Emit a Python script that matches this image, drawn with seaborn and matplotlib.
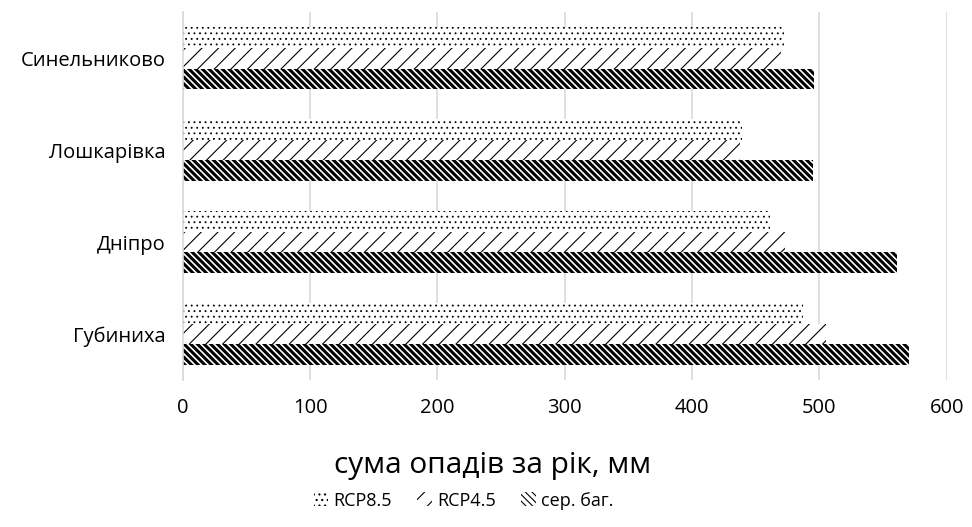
import pandas as pd
import matplotlib.pyplot as plt
import seaborn as sns

stations = ['Синельниково', 'Лошкарівка', 'Дніпро', 'Губиниха']
rcp85 = [472, 439, 461, 487]
rcp45 = [470, 438, 473, 505]
avg = [496, 495, 561, 570]
series = ['RCP8.5', 'RCP4.5', 'сер. баг.']

df = pd.DataFrame({
    'station': stations * 3,
    'value': rcp85 + rcp45 + avg,
    'series': [s for s in series for _ in stations],
})

sns.set_theme(style='white')
plt.rcParams['font.family'] = ['Open Sans', 'DejaVu Sans']
plt.rcParams['text.color'] = 'black'
plt.rcParams['axes.labelcolor'] = 'black'
plt.rcParams['hatch.linewidth'] = 0.8

fig, ax = plt.subplots(figsize=(9.72, 5.27), dpi=100)
fig.subplots_adjust(left=0.188, right=0.974, top=0.977, bottom=0.279)

sns.barplot(data=df, y='station', x='value', hue='series', hue_order=series,
            order=stations, orient='h', width=0.68, gap=0,
            palette=['white'] * 3, edgecolor='black', linewidth=0,
            legend=False, ax=ax)

hatches = ['...', '//', '\\' * 5]
hatch_lw = [0.6, 0.8, 2.2]


def style_patch(p, h, lw):
    p.set_hatch(h)
    p.set_edgecolor('black')
    if hasattr(p, 'set_hatch_linewidth'):
        p.set_hatch_linewidth(lw)


for cont, h, lw in zip(ax.containers, hatches, hatch_lw):
    for bar in cont:
        style_patch(bar, h, lw)

ax.set_xlim(0, 600)
ax.set_xticks(range(0, 601, 100))
ax.grid(axis='x', color='#d9d9d9', linewidth=1.2)
ax.set_axisbelow(True)
for side in ['top', 'right', 'bottom']:
    ax.spines[side].set_visible(False)
ax.spines['left'].set_color('#d9d9d9')
ax.spines['left'].set_linewidth(1.2)
ax.tick_params(axis='both', labelsize=14.5, length=0, colors='black')
ax.tick_params(axis='x', pad=13)
ax.tick_params(axis='y', pad=12)
ax.set_ylabel('')
ax.set_xlabel('сума опадів за рік, мм', fontsize=21.5, color='black')
# Excel centres the axis title on the chart, not on the plot area
ax.xaxis.set_label_coords(0.405, -0.194)

handles = []
for h, lw in zip(hatches, hatch_lw):
    r = plt.Rectangle((0, 0), 1, 1, facecolor='white', edgecolor='black',
                      linewidth=0)
    style_patch(r, h, lw)
    handles.append(r)
fig.legend(handles, series, loc='center', bbox_to_anchor=(0.477, 0.05), ncol=3,
           frameon=False, fontsize=13, handlelength=0.8, handleheight=0.8,
           handletextpad=0.3, columnspacing=1.4)

fig.savefig('out.png', dpi=100)
